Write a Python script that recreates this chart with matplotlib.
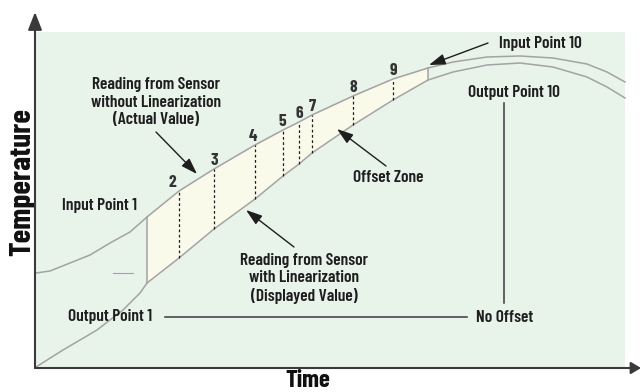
import numpy as np
import matplotlib
matplotlib.use("Agg")
import matplotlib.pyplot as plt
from matplotlib.patches import Rectangle

plt.rcParams["font.family"] = ["Barlow Condensed", "DejaVu Sans"]
plt.rcParams["font.weight"] = "semibold"

# Reading from sensor without linearization (actual value)
upper_time = [0, 14, 34, 54, 74, 94, 111, 143, 178, 219, 247, 263, 276, 317, 357, 392,
              417, 451, 484, 517, 551, 571, 589]
upper_temp = [94, 96, 104, 112, 124, 135, 150, 176, 198, 222, 237, 245, 252, 271, 288, 299,
              305, 310, 311, 309, 303, 295, 285]

# Reading from sensor with linearization (displayed value)
lower_time = [0, 27, 61, 87, 104, 111, 143, 178, 219, 247, 263, 276, 317, 357, 392,
              417, 451, 484, 517, 551, 571, 589]
lower_temp = [0, 17, 37, 57, 74, 84, 109, 138, 168, 191, 203, 214, 242, 267, 287,
              295, 302, 304, 300, 290, 280, 269]

point_labels = ["2", "3", "4", "5", "6", "7", "8", "9"]
point_time = [143, 178, 219, 247, 263, 276, 317, 357]
label_dx = [-7, 0, -2, -1, 0, 0, 0, 0]

zone_start = 111   # input point 1
zone_end = 392     # input point 10
no_offset_temp = 50
output10_time = 468

BG = "#e8f3ea"
ZONE = "#fafaeb"
CURVE = "#a3a3a3"
INK = "#1e1e1e"
AXIS = "#3a3a3a"

fig = plt.figure(figsize=(6.41, 3.92), dpi=100)
ax = fig.add_axes([0, 0, 1, 1])
ax.set_xlim(-36, 605)
ax.set_ylim(-25, 367)
ax.set_axis_off()

ax.add_patch(Rectangle((0, 0), 589, 335, facecolor=BG, edgecolor="none", zorder=0))

ut = np.array(upper_time)
up = np.array(upper_temp)
lt = np.array(lower_time)
lo = np.array(lower_temp)

# offset zone
mask = (lt >= zone_start) & (lt <= zone_end)
ax.fill_between(lt[mask], np.interp(lt[mask], ut, up), lo[mask], color=ZONE, lw=0, zorder=1)

ax.plot(ut, up, color=CURVE, lw=1.1, zorder=2)
ax.plot(lt, lo, color=CURVE, lw=1.1, zorder=2)
for t in (zone_start, zone_end):
    ax.plot([t, t], [np.interp(t, lt, lo), np.interp(t, ut, up)], color=CURVE, lw=1.1, zorder=2)
ax.plot([77, 97], [94, 94], color=CURVE, lw=0.8, zorder=2)

for lab, t, dx in zip(point_labels, point_time, label_dx):
    top = np.interp(t, ut, up)
    bot = np.interp(t, lt, lo)
    ax.plot([t, t], [bot, top], color=INK, lw=0.9, ls=(0, (2.2, 2)), zorder=3)
    ax.text(t + dx, top + 9, lab, ha="center", va="center", fontsize=12.5,
            fontweight="bold", color="#333333")

# axes
arrow_ax = dict(arrowstyle="-|>,head_length=0.9,head_width=0.35", color=AXIS, lw=1.5,
                shrinkA=0, shrinkB=0, mutation_scale=12)
ax.annotate("", xy=(-1, 355), xytext=(-1, -1), arrowprops=arrow_ax, zorder=5)
arrow_x = dict(arrowstyle="-|>,head_length=0.5,head_width=0.3", color=AXIS, lw=1.5,
               shrinkA=0, shrinkB=0, mutation_scale=12)
ax.annotate("", xy=(605, -1), xytext=(-1, -1), arrowprops=arrow_x, zorder=5)

ax.text(-13, 185, "Temperature", rotation=90, ha="center", va="center", fontsize=22.5,
        fontweight="bold", color="#111111")
ax.text(272, -20, "Time", ha="center", va="baseline", fontsize=18,
        fontweight="bold", color="#111111")

# annotations
fs = 12.5
arr = dict(arrowstyle="-|>,head_length=0.9,head_width=0.3", color=INK, lw=1,
           shrinkA=0, shrinkB=0, mutation_scale=11)

ax.text(120, 265, "Reading from Sensor\nwithout Linearization\n(Actual Value)",
        ha="center", va="center", fontsize=fs, color=INK, linespacing=1.2)
ax.annotate("", xy=(161, 193), xytext=(120, 235), arrowprops=arr)

ax.text(268, 89, "Reading from Sensor\nwith Linearization\n(Displayed Value)",
        ha="center", va="center", fontsize=fs, color=INK, linespacing=1.2)
ax.annotate("", xy=(210, 157), xytext=(258, 120), arrowprops=arr)

ax.text(352, 190, "Offset Zone", ha="center", va="center", fontsize=fs, color=INK)
ax.annotate("", xy=(301, 238), xytext=(350, 201), arrowprops=arr)

ax.text(504, 324, "Input Point 10", ha="center", va="center", fontsize=fs, color=INK)
ax.annotate("", xy=(393, 302), xytext=(452, 324), arrowprops=arr)

ax.text(64, 162, "Input Point 1", ha="center", va="center", fontsize=fs, color=INK)

ax.text(74, no_offset_temp, "Output Point 1", ha="center", va="center", fontsize=fs, color=INK)
ax.text(469, no_offset_temp, "No Offset", ha="center", va="center", fontsize=fs, color=INK)
ax.plot([129, 431], [no_offset_temp, no_offset_temp], color=AXIS, lw=1.1)

ax.text(478, 275, "Output Point 10", ha="center", va="center", fontsize=fs, color=INK)
ax.plot([output10_time, output10_time], [64, 264], color=AXIS, lw=1.1)

fig.savefig("out.png", dpi=100)
